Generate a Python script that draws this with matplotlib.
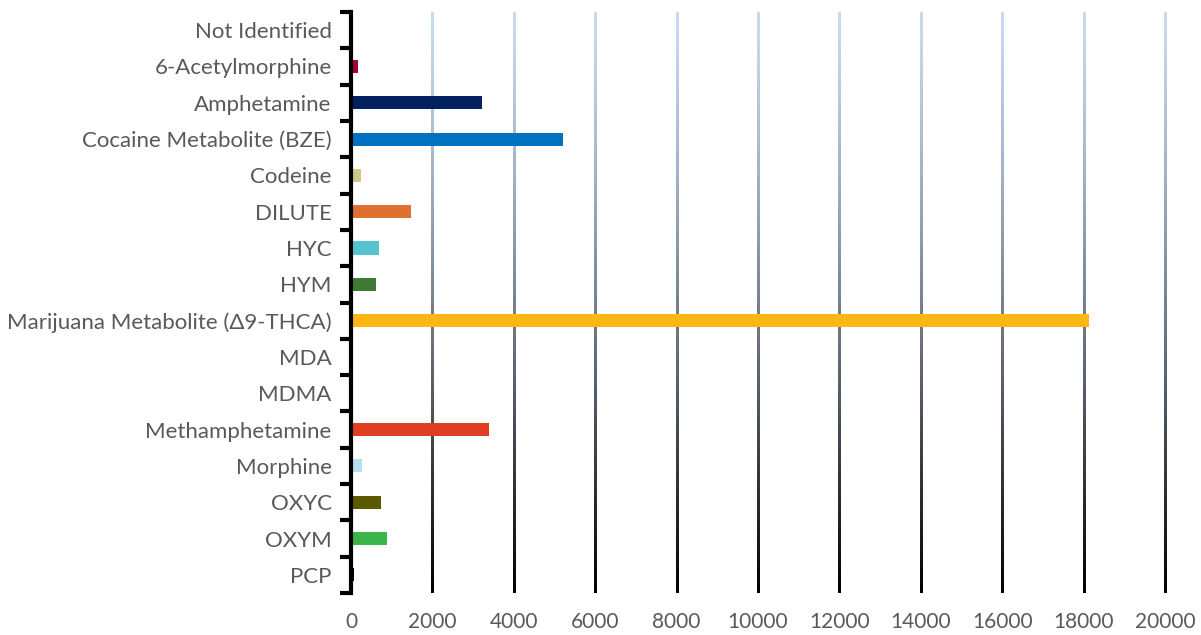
import numpy as np, matplotlib; matplotlib.use("Agg")
import matplotlib.pyplot as plt
from matplotlib.collections import LineCollection
from matplotlib.colors import to_rgb

categories = ["Not Identified", "6-Acetylmorphine", "Amphetamine", "Cocaine Metabolite (BZE)",
              "Codeine", "DILUTE", "HYC", "HYM", "Marijuana Metabolite (\u03949-THCA)", "MDA",
              "MDMA", "Methamphetamine", "Morphine", "OXYC", "OXYM", "PCP"]
values = [15, 180, 3220, 5210, 250, 1475, 690, 615, 18130, 5, 30, 3390, 270, 740, 885, 80]
colors = ["#1a1a1a", "#a50034", "#002060", "#0070c0", "#c9c98a", "#e07030", "#56c5d0", "#3f7a35",
          "#fbb714", "#7a4a10", "#4a2c00", "#e03e22", "#b5dfea", "#5c5a00", "#3ab54a", "#000000"]
xticks = list(range(0, 20001, 2000))

plt.rcParams["font.family"] = ["Lato", "DejaVu Sans"]
fig = plt.figure(figsize=(12.01, 6.35), dpi=100)
ax = fig.add_axes([351/1201, 1-593/635, (1168-351)/1201, (593-12)/635])

y = np.arange(len(categories))
ax.barh(y, values, height=0.36, color=colors, zorder=3)
ax.set_ylim(len(categories)-0.5, -0.5)
ax.set_xlim(0, 20070)

# gradient gridlines: light blue at top fading to black at bottom
top, bot = np.array(to_rgb("#c8daf0")), np.array(to_rgb("#000000"))
n = 150
ys = np.linspace(-0.5, len(categories)-0.5, n+1)
step = ys[1]-ys[0]
for xv in xticks[1:]:
    segs = [[(xv, ys[i]), (xv, min(ys[i+1]+step*0.8, ys[-1]))] for i in range(n)]
    cols = [top + (bot-top)*(i/(n-1))**1.3 for i in range(n)]
    ax.add_collection(LineCollection(segs, colors=cols, linewidths=2, zorder=1,
                                     capstyle="butt", antialiaseds=False))

ax.set_xticks(xticks)
ax.tick_params(axis="x", length=0, labelsize=15, labelcolor="#595959", pad=14)
ax.set_yticks(y)
ax.set_yticklabels(categories)
ax.tick_params(axis="y", which="major", length=0, labelsize=16, labelcolor="#595959", pad=14)
ax.set_yticks(np.arange(-0.5, len(categories)), minor=True)
ax.tick_params(axis="y", which="minor", length=8, width=3, color="black")
for s in ["top", "right", "bottom"]:
    ax.spines[s].set_visible(False)
ax.spines["left"].set_linewidth(3)
ax.spines["left"].set_zorder(4)

fig.savefig("out.png", dpi=100)
